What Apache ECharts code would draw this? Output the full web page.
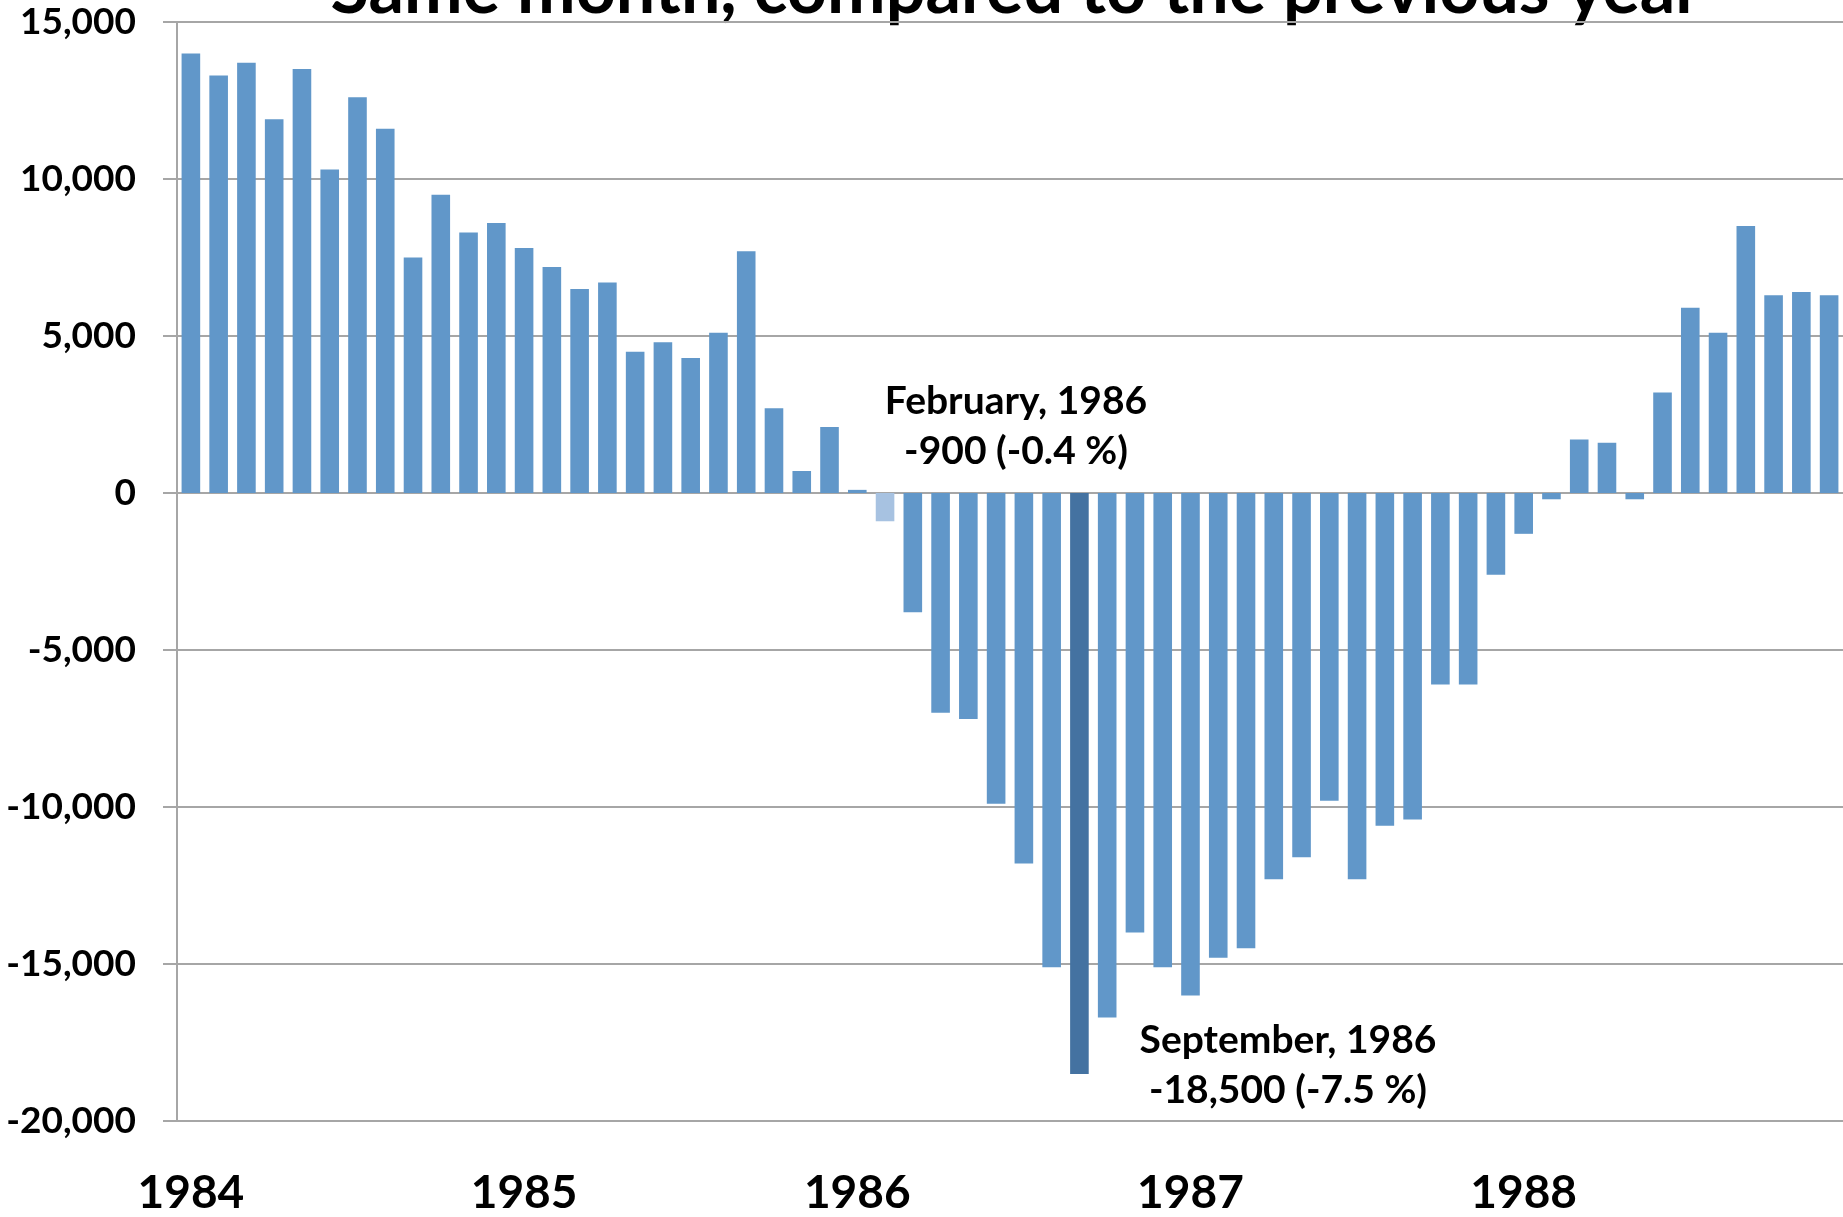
<!DOCTYPE html>
<html>
<head>
<meta charset="utf-8">
<script src="https://cdn.jsdelivr.net/npm/echarts@6/dist/echarts.min.js"></script>
<style>
  html, body { margin: 0; padding: 0; background: #fff; }
  #chart { width: 1843px; height: 1217px; }
</style>
</head>
<body>
<div id="chart"></div>
<script>
// years shown on the x axis, one label per January
const years = ['1984', '1985', '1986', '1987', '1988']
const months = ['01', '02', '03', '04', '05', '06', '07', '08', '09', '10', '11', '12']

// change against same month previous year, Jan 1984 .. Dec 1988
const changes = [
  14000, 13300, 13700, 11900, 13500, 10300, 12600, 11600, 7500, 9500, 8300, 8600,
  7800, 7200, 6500, 6700, 4500, 4800, 4300, 5100, 7700, 2700, 700, 2100,
  100, -900, -3800, -7000, -7200, -9900, -11800, -15100, -18500, -16700, -14000, -15100,
  -16000, -14800, -14500, -12300, -11600, -9800, -12300, -10600, -10400, -6100, -6100, -2600,
  -1300, -200, 1700, 1600, -200, 3200, 5900, 5100, 8500, 6300, 6400, 6300
]

// y axis ticks
const yTicks = [-20000, -15000, -10000, -5000, 0, 5000, 10000, 15000]

// the two months that are called out
const lightMonth = '1986-02'
const darkMonth = '1986-09'
const notes = [
  { lines: ['February, 1986', '-900 (-0.4 %)'] },
  { lines: ['September, 1986', '-18,500 (-7.5 %)'] }
]

const titleText = 'Same month, compared to the previous year'

// category list built from years x months
let categories = []
years.forEach(y => {
  months.forEach(m => categories.push(y + '-' + m))
})

const FONT = 'Lato'

let myChart = echarts.init(document.getElementById('chart'))

let option = {
  animation: false,
  backgroundColor: '#fff',
  grid: {
    left: 177,
    right: -1,
    top: 22,
    bottom: 96,
    containLabel: false
  },
  xAxis: {
    type: 'category',
    data: categories,
    axisLine: {
      onZero: false,
      lineStyle: { color: '#a6a6a6', width: 2 }
    },
    axisTick: { show: false },
    axisLabel: {
      interval: 0,
      margin: 49,
      color: '#000',
      fontFamily: FONT,
      fontWeight: 'bold',
      fontSize: 46,
      formatter: function (val, idx) {
        return idx % 12 === 0 ? val.slice(0, 4) : ''
      }
    },
    splitLine: { show: false }
  },
  yAxis: {
    type: 'value',
    min: yTicks[0],
    max: yTicks[yTicks.length - 1],
    interval: yTicks[1] - yTicks[0],
    axisLine: {
      show: true,
      lineStyle: { color: '#a6a6a6', width: 2 }
    },
    axisTick: {
      show: true,
      length: 14,
      lineStyle: { color: '#a6a6a6', width: 2 }
    },
    axisLabel: {
      margin: 41,
      color: '#000',
      fontFamily: FONT,
      fontWeight: 'bold',
      fontSize: 37,
      formatter: function (v) {
        return v.toLocaleString('en-US')
      }
    },
    splitLine: {
      show: true,
      lineStyle: { color: '#a6a6a6', width: 2 }
    }
  },
  series: [{
    type: 'bar',
    data: changes,
    barCategoryGap: '33%',
    itemStyle: {
      color: function (p) {
        if (p.name === lightMonth) return '#a7c2e1'
        if (p.name === darkMonth) return '#4472a1'
        return '#6197c9'
      }
    }
  }],
  graphic: [
    {
      // title is partly cut off at the top, as in the original
      type: 'text',
      x: 1016,
      y: -10,
      style: {
        text: titleText,
        align: 'center',
        verticalAlign: 'middle',
        fill: '#000',
        font: 'bold 70px ' + FONT
      }
    },
    {
      type: 'text',
      x: 1016,
      y: 426,
      style: {
        text: notes[0].lines.join('\n'),
        align: 'center',
        verticalAlign: 'middle',
        lineHeight: 50,
        fill: '#000',
        font: 'bold 39px ' + FONT
      }
    },
    {
      type: 'text',
      x: 1288,
      y: 1065,
      style: {
        text: notes[1].lines.join('\n'),
        align: 'center',
        verticalAlign: 'middle',
        lineHeight: 50,
        fill: '#000',
        font: 'bold 39px ' + FONT
      }
    }
  ]
}

myChart.setOption(option)
</script>
</body>
</html>
